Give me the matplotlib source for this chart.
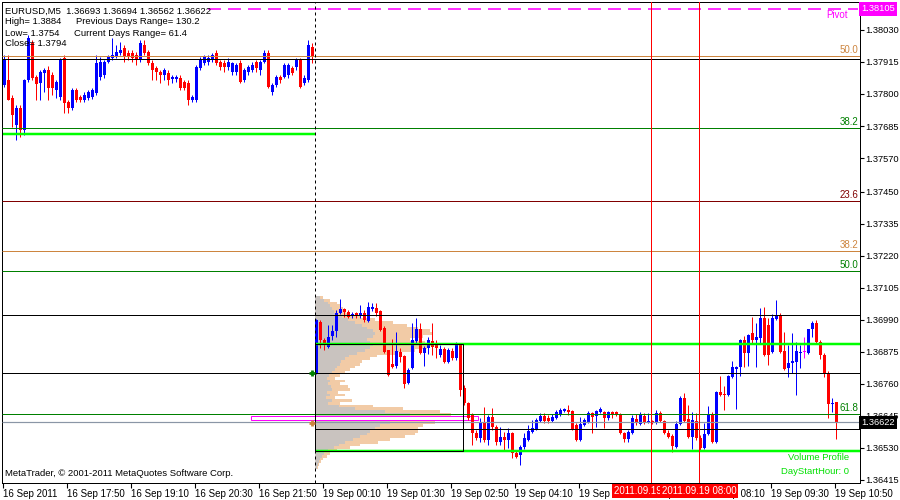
import numpy as np
import matplotlib
matplotlib.use("Agg")
import matplotlib.pyplot as plt
import matplotlib.transforms as mtrans
from matplotlib.patches import Rectangle

plt.rcParams['font.family'] = ['Liberation Sans', 'DejaVu Sans']
plt.rcParams['lines.scale_dashes'] = False

# ---------------- data (prices in points, 1 point = 0.00001) ----------------
# 16 Sep 2011, M5 bars from 16:30
open_16 = [137833,137851,137786,137689,137750,137671,137851,137983,137861,137840,
           137876,137886,137868,137815,137790,137930,137772,137750,137815,137790,
           137779,137786,137790,137804,137861,137868,137915,137930,137933,137947,
           137965,137947,137947,137940,137922,137976,137951,137912,137894,137879,
           137868,137876,137854,137854,137858,137843,137840,137779,137779,137894,
           137912,137915,137922,137947,137915,137912,137897,137879,137879,137912,
           137851,137879,137886,137915,137886,137915,137947,137808,137833,137861,
           137861,137868,137894,137897,137922,137840,137851,137969]
close_16 = [137922,137779,137725,137750,137671,137851,138001,137858,137836,137879,
            137886,137822,137822,137843,137922,137768,137750,137815,137779,137779,
            137797,137808,137815,137912,137915,137915,137933,137940,137951,137958,
            137933,137933,137930,137922,137983,137947,137912,137886,137879,137868,
            137886,137851,137861,137861,137822,137822,137779,137790,137897,137922,
            137933,137930,137940,137912,137897,137897,137915,137912,137904,137843,
            137886,137897,137904,137894,137915,137947,137825,137833,137861,137851,
            137904,137904,137876,137922,137825,137858,137976,137933]
high_16 = [137940,137940,137797,137761,137761,137854,138012,137994,137868,137886,
           137894,137901,137879,137851,137930,137940,137779,137822,137822,137797,
           137808,137815,137822,137940,137933,137922,137940,138001,137976,137987,
           137976,137958,137958,137951,137994,137994,137958,137922,137901,137886,
           137894,137886,137868,137868,137868,137851,137851,137797,137904,137933,
           137940,137940,137947,137958,137922,137922,137930,137915,137912,137922,
           137894,137904,137915,137922,137922,137958,137958,137840,137868,137868,
           137912,137912,137901,137930,137930,137868,137994,137983]
low_16 = [137825,137779,137682,137635,137646,137653,137843,137851,137779,137779,
          137808,137779,137797,137786,137779,137732,137732,137743,137772,137772,
          137772,137779,137782,137797,137851,137858,137912,137922,137930,137940,
          137915,137922,137915,137904,137915,137940,137904,137851,137851,137840,
          137851,137833,137840,137843,137815,137815,137761,137772,137772,137886,
          137904,137904,137915,137904,137886,137879,137886,137868,137868,137840,
          137843,137868,137879,137879,137868,137912,137822,137797,137825,137840,
          137858,137858,137868,137886,137822,137833,137843,137912]

# 19 Sep 2011, M5 bars from 00:00
open_19 = [136799,136982,136917,136892,136932,136950,137014,137029,137018,137004,
           137014,137004,137014,136986,137029,137032,137022,136960,136882,136831,
           136824,136874,136860,136763,136817,136914,136957,136871,136889,136914,
           136907,136864,136885,136838,136878,136853,136907,136745,136691,136648,
           136584,136566,136620,136558,136641,136605,136551,136569,136558,136584,
           136512,136505,136533,136558,136587,136598,136627,136645,136638,136627,
           136638,136648,136663,136666,136663,136612,136558,136612,136623,136655,
           136645,136659,136659,136638,136659,136659,136652,136584,136562,136584,
           136634,136616,136645,136623,136627,136620,136655,136627,136584,136573,
           136533,136616,136709,136634,136569,136627,136566,136530,136580,136652,
           136551,136731,136724,136720,136785,136813,136821,136917,136871,136943,
           136917,136925,136996,136971,136874,136993,137007,136878,136817,136835,
           136838,136871,136874,136871,136957,136978,136910,136864,136799,136688,
           136693]
close_19 = [136989,136917,136899,136928,136950,137014,137029,137018,137000,137011,
            137004,137014,136989,137036,137036,137014,136953,136874,136792,136821,
            136878,136856,136760,136810,136917,136957,136871,136889,136917,136892,
            136889,136885,136838,136882,136853,136907,136738,136691,136638,136584,
            136566,136620,136558,136641,136605,136551,136569,136558,136584,136512,
            136497,136533,136566,136591,136602,136630,136645,136627,136627,136641,
            136659,136666,136670,136659,136598,136558,136616,136630,136655,136641,
            136663,136670,136638,136659,136652,136652,136584,136562,136587,136638,
            136620,136652,136623,136627,136620,136655,136627,136584,136569,136537,
            136616,136709,136627,136569,136630,136566,136530,136580,136648,136551,
            136731,136720,136720,136788,136821,136821,136917,136871,136935,136917,
            136928,136996,136864,136864,136996,137007,136874,136813,136835,136842,
            136878,136874,136874,136957,136978,136910,136864,136799,136688,136691,
            136622]
high_19 = [136993,136989,136925,136971,136971,137025,137065,137032,137025,137018,
           137018,137043,137025,137054,137050,137050,137025,136968,136882,136921,
           136946,136889,136864,136817,136978,136996,136978,136896,136928,136978,
           136917,136899,136892,136889,136889,136910,136907,136756,136695,136655,
           136594,136638,136677,136648,136673,136612,136605,136587,136602,136587,
           136523,136541,136584,136612,136630,136638,136655,136655,136648,136652,
           136666,136673,136673,136684,136666,136620,136641,136638,136663,136659,
           136666,136677,136663,136663,136663,136663,136655,136587,136594,136648,
           136652,136659,136655,136655,136630,136666,136663,136630,136594,136580,
           136627,136716,136727,136684,136659,136655,136576,136620,136681,136659,
           136734,136788,136752,136792,136842,136824,136921,136932,136939,137000,
           136978,137032,137036,136996,137011,137061,137014,136946,136899,136943,
           136910,136899,136928,136957,136986,136989,136917,136871,136806,136709,
           136694]
low_19 = [136795,136889,136882,136889,136917,136928,137011,137000,136996,136996,
          136996,136996,136982,136982,137022,137004,136950,136871,136788,136817,
          136817,136838,136745,136760,136813,136907,136867,136824,136867,136864,
          136853,136856,136835,136835,136846,136846,136716,136684,136630,136541,
          136558,136551,136551,136541,136594,136541,136541,136523,136530,136494,
          136494,136469,136526,136555,136584,136594,136623,136620,136620,136623,
          136634,136645,136659,136648,136594,136555,136555,136609,136620,136584,
          136605,136655,136602,136630,136638,136645,136580,136551,136551,136580,
          136612,136612,136616,136620,136616,136616,136623,136580,136566,136515,
          136530,136612,136623,136566,136526,136558,136523,136526,136576,136548,
          136548,136716,136666,136716,136781,136670,136788,136821,136824,136907,
          136821,136907,136860,136828,136871,136989,136871,136810,136785,136799,
          136720,136817,136853,136867,136928,136907,136849,136785,136638,136659,
          136562]

# x-axis ticks (bar index) and labels
tick_bars = [0, 16, 32, 48, 64, 80, 96, 112, 128, 144, 160, 176, 192, 208]
tick_labels = ["16 Sep 2011", "16 Sep 17:50", "16 Sep 19:10", "16 Sep 20:30",
               "16 Sep 21:50", "19 Sep 00:10", "19 Sep 01:30", "19 Sep 02:50",
               "19 Sep 04:10", "19 Sep 05:30", "19 Sep 06:50", "19 Sep 08:10",
               "19 Sep 09:30", "19 Sep 10:50"]
price_ticks = [1.38030, 1.37915, 1.37800, 1.37685, 1.37570, 1.37450, 1.37335,
               1.37220, 1.37105, 1.36990, 1.36875, 1.36760, 1.36645, 1.36530, 1.36415]

# volume profile of 19 Sep (1-pip rows)
profile_prices = [1.3707, 1.3706, 1.3705, 1.3704, 1.3703, 1.3702, 1.3701, 1.3700,
                  1.3699, 1.3698, 1.3697, 1.3696, 1.3695, 1.3694, 1.3693, 1.3692,
                  1.3691, 1.3690, 1.3689, 1.3688, 1.3687, 1.3686, 1.3685, 1.3684,
                  1.3683, 1.3682, 1.3681, 1.3680, 1.3679, 1.3678, 1.3677, 1.3676,
                  1.3675, 1.3674, 1.3673, 1.3672, 1.3671, 1.3670, 1.3669, 1.3668,
                  1.3667, 1.3666, 1.3665, 1.3664, 1.3663, 1.3662, 1.3661, 1.3660,
                  1.3659, 1.3658, 1.3657, 1.3656, 1.3655, 1.3654, 1.3653, 1.3652,
                  1.3651, 1.3650, 1.3649, 1.3648, 1.3647, 1.3646]
profile_total = [8,15,22,25,28,31,35,45,60,78,92,103,115,117,108,95,110,117,112,100,
                 82,62,55,47,45,40,35,30,25,20,30,25,33,35,23,30,20,37,25,58,
                 88,125,136,132,128,120,108,103,103,100,90,75,63,45,35,22,15,12,8,6,4,3]
profile_part = [5,9,13,15,17,19,22,27,33,40,47,52,58,60,58,52,55,58,55,50,
                42,34,30,26,25,22,20,17,14,12,15,13,16,17,12,15,11,17,13,24,
                40,70,95,90,85,75,65,60,55,52,45,38,30,24,19,13,9,7,5,4,3,2]

# levels
pivot_price = 1.38105
bid_price = 1.36622
fib_levels = [(1.37935, "50.0", "#CD853F"), (1.37678, "38.2", "#008000"),
              (1.37416, "23.6", "#800000"), (1.37237, "38.2", "#CD853F"),
              (1.37165, "50.0", "#008000"), (1.36652, "61.8", "#008000")]
black_full = [1.37925, 1.37007, 1.36799]
black_today = [1.36598]
lime_prev_day = [1.37657]
lime_today = [1.36901, 1.36519]
value_area = (1.36519, 1.36901)
poc_band = (1.36630, 1.36645)
day_start_bar = 78
va_end_bar = 115
vline_bars = [162, 174]
vline_labels = ["2011.09.19 07:00", "2011.09.19 08:00"]

# ---------------- figure ----------------
W, H = 900, 500
PX = 0.72  # points per pixel
fig = plt.figure(figsize=(W / 100, H / 100), dpi=100, facecolor="white")
ax = fig.add_axes([2 / W, 17 / H, 858 / W, 481 / H])
ax.set_facecolor("white")
XMIN, XMAX = -0.5, 214.0
ax.set_xlim(XMIN, XMAX)
ax.set_ylim(1.36404, 1.38130)

o = np.array(open_16 + open_19) / 1e5
c = np.array(close_16 + close_19) / 1e5
h = np.array(high_16 + high_19) / 1e5
l = np.array(low_16 + low_19) / 1e5
x = np.arange(len(o))

cols = np.where(c > o, "#0000FF", np.where(c < o, "#FF0000", "#FF00FF"))
ds = day_start_bar - 0.25

# volume profile
ax.barh(profile_prices, np.array(profile_total) * 0.25, left=ds, height=0.0001,
        color="#F2CBA6", linewidth=0, antialiased=False, zorder=1)
ax.barh(profile_prices, np.array(profile_part) * 0.25, left=ds, height=0.0001,
        color="#C9C3BF", linewidth=0, antialiased=False, zorder=1.1)

# POC band
ax.add_patch(Rectangle((61.75, poc_band[0]), 118.5 - 61.75, poc_band[1] - poc_band[0],
                       facecolor="white", edgecolor="#FF00FF", lw=1 * PX, zorder=2))

# candles
ax.vlines(x, l, h, colors=cols, lw=1 * PX, zorder=4)
minh = 0.000036
body_b = np.minimum(o, c)
body_h = np.maximum(np.abs(c - o), minh)
ax.bar(x, body_h, bottom=body_b, width=0.75, color=cols, linewidth=0,
       antialiased=False, zorder=4)

# horizontal levels
for p, txt, col in fib_levels:
    ax.hlines(p, XMIN, XMAX, colors=col, lw=1 * PX, zorder=5)
    ax.text(213.5, p + 0.00004, txt, color=col, fontsize=7, ha="right", va="bottom", zorder=6)
for p in black_full:
    ax.hlines(p, XMIN, XMAX, colors="black", lw=1 * PX, zorder=5)
for p in black_today:
    ax.hlines(p, ds, XMAX, colors="black", lw=1 * PX, zorder=5)
for p in lime_prev_day:
    ax.hlines(p, XMIN + 0.3, ds, colors="#00FF00", lw=2.5 * PX, zorder=5)
for p in lime_today:
    ax.hlines(p, ds, XMAX, colors="#00FF00", lw=2.5 * PX, zorder=5)
ax.hlines(bid_price, XMIN, XMAX, colors="#8A96A6", lw=1.2 * PX, zorder=5)
ax.add_patch(Rectangle((ds, value_area[0]), va_end_bar - 0.25 - ds,
                       value_area[1] - value_area[0], fill=False,
                       edgecolor="black", lw=1 * PX, zorder=5))
ax.hlines(pivot_price, 51, 213.5, colors="#FF00FF", lw=1.6 * PX,
          linestyles=[(0, (13 * PX, 7 * PX))], zorder=5)
ax.text(211, pivot_price - 0.00004, "Pivot", color="#FF00FF", fontsize=7,
        ha="right", va="top", zorder=6)

# day separator and vertical lines
ax.axvline(ds, color="black", lw=1 * PX, ls=(0, (3 * PX, 3 * PX)), zorder=6)
for vb in vline_bars:
    ax.axvline(vb - 0.25, color="#FF0000", lw=1 * PX, zorder=6)

# little price markers at the end of previous day
ax.plot([77.0], [1.36799], marker="+", color="#008000", ms=5, mew=2, zorder=7)
ax.plot([77.0], [1.36620], marker="+", color="#CD853F", ms=5, mew=2, zorder=7)

# axes styling
for s in ax.spines.values():
    s.set_color("black")
    s.set_linewidth(1 * PX)
ax.yaxis.tick_right()
ax.set_yticks(price_ticks)
ax.set_yticklabels([f"{v:.5f}" for v in price_ticks])
ax.tick_params(axis="y", direction="out", length=3, width=0.8, pad=0.8,
               labelsize=6.7, colors="black")
ax.set_xticks([b - 0.25 for b in tick_bars])
ax.set_xticklabels(tick_labels)
ax.tick_params(axis="x", direction="out", length=3.6, width=0.8, pad=0.5,
               labelsize=7, colors="black")
for lbl in ax.get_xticklabels():
    lbl.set_ha("left")

# right-axis price boxes
btrans = mtrans.blended_transform_factory(ax.transAxes, ax.transData)
ax.text(1.001, pivot_price, f"{pivot_price:.5f}", transform=btrans, color="white",
        fontsize=6.7, ha="left", va="center", clip_on=False, zorder=20,
        bbox=dict(facecolor="#FF00FF", edgecolor="none", pad=1.6))
ax.text(1.001, bid_price, f"{bid_price:.5f}", transform=btrans, color="white",
        fontsize=6.7, ha="left", va="center", clip_on=False, zorder=20,
        bbox=dict(facecolor="black", edgecolor="none", pad=1.6))

# vertical line time labels on the time axis, centred on each line
xtrans = mtrans.blended_transform_factory(ax.transData, ax.transAxes)
for vb, txt in zip(vline_bars, vline_labels):
    ax.text(vb - 0.25, -8 / 481, txt, transform=xtrans, color="white", fontsize=7,
            ha="center", va="center", clip_on=False, zorder=30,
            bbox=dict(facecolor="#FF0000", edgecolor="none", pad=1.4))

# info texts
fs = 6.8
fig.text(5 / W, 1 - 11 / H, "EURUSD,M5  1.36693 1.36694 1.36562 1.36622", fontsize=fs, va="center")
fig.text(5 / W, 1 - 22 / H, "High= 1.3884", fontsize=fs, va="center")
fig.text(76 / W, 1 - 22 / H, "Previous Days Range= 130.2", fontsize=fs, va="center")
fig.text(5 / W, 1 - 33 / H, "Low= 1.3754", fontsize=fs, va="center")
fig.text(74 / W, 1 - 33 / H, "Current Days Range= 61.4", fontsize=fs, va="center")
fig.text(5 / W, 1 - 44 / H, "Close= 1.3794", fontsize=fs, va="center")
fig.text(5 / W, 1 - 474 / H, "MetaTrader, \u00a9 2001-2011 MetaQuotes Software Corp.", fontsize=fs, va="center")
fig.text(849 / W, 1 - 457 / H, "Volume Profile", color="#00E000", fontsize=fs, ha="right", va="center")
fig.text(849 / W, 1 - 472 / H, "DayStartHour: 0", color="#00E000", fontsize=fs, ha="right", va="center")

fig.savefig("out.png", dpi=100, facecolor="white")
